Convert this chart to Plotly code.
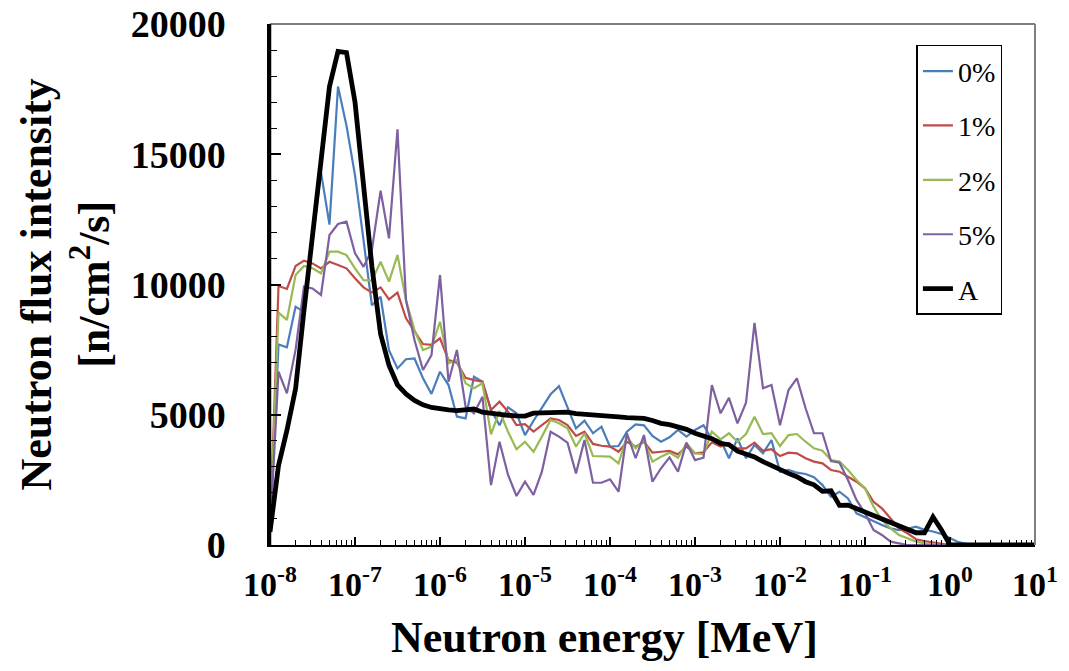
import plotly.graph_objects as go

# Energy grid: 10 logarithmic bins per decade from 1e-8 MeV to 10 MeV
MANTISSA = [1.00, 1.26, 1.58, 2.00, 2.51, 3.16, 3.98, 5.01, 6.31, 7.94]
energy_mev = [m * 10.0 ** d for d in range(-8, 1) for m in MANTISSA] + [10.0]

flux_0pct = [
    500, 7700, 7590, 9150, 8950, 11600, 14300, 12300, 17600, 16100,
    14200, 11700, 9200, 9530, 7480, 6780, 7130, 7160, 6400, 5800,
    6650, 6140, 4930, 4860, 6460, 6270, 5180, 4600, 5285, 5055,
    4220, 4770, 5245, 5785, 6100, 5310, 4480, 4770, 4290, 4540,
    3775, 3800, 4350, 4630, 4595, 4185, 3965, 4134, 4415, 4160,
    4415, 4600, 4057, 4030, 3330, 4095, 3330, 3840, 3520, 4030,
    2815, 2880, 2775, 2725, 2600, 2300, 1855, 2045, 1790, 1215,
    1060, 935, 770, 640, 575, 620, 700, 580, 520, 420,
    250, 110, 40, 0, 0, 0, 0, 0, 0, 0, 0,
]
flux_1pct = [
    500, 9940, 9830, 10710, 10915, 10810, 10620, 10870, 10750, 10620,
    10240, 9890, 9690, 9890, 9430, 9690, 8700, 8190, 7716, 7680,
    7935, 7100, 7000, 6420, 6330, 6270, 5180, 5500, 5120, 4600,
    4640, 4350, 4600, 4860, 4800, 4600, 4185, 4350, 3880, 3810,
    3775, 3580, 3965, 3775, 3965, 3545, 3580, 3610, 3480, 3775,
    3520, 3560, 3940, 3775, 3905, 3710, 3710, 3930, 3620, 3675,
    3415, 3545, 3520, 3330, 3200, 3135, 2880, 2815, 2620, 2430,
    2175, 1660, 1410, 1025, 640, 450, 220, 150, 100, 50,
    0, 0, 0, 0, 0, 0, 0, 0, 0, 0, 0,
]
flux_2pct = [
    500, 8920, 8640, 10365, 10710, 10620, 10430, 11260, 11260, 11130,
    10620, 10170, 10150, 10875, 10110, 11130, 9400, 8250, 7485, 7610,
    8570, 6975, 7100, 6205, 6015, 6205, 4250, 5150, 4350, 3675,
    3965, 3580, 4160, 4800, 4670, 4480, 3775, 4290, 3415, 3390,
    3390, 3135, 4160, 3710, 4030, 3200, 3390, 3545, 3350, 3905,
    3520, 3480, 4350, 4057, 4290, 3965, 4260, 4925, 4260, 4290,
    3800, 4220, 4260, 3965, 3710, 3620, 3260, 3200, 2880, 2495,
    2175, 1470, 960, 640, 385, 256, 130, 65, 30, 0,
    0, 0, 0, 0, 0, 0, 0, 0, 0, 0, 0,
]
flux_5pct = [
    500, 6650, 5820, 7500, 9920, 9850, 9600, 11900, 12320, 12410,
    11200, 10680, 11325, 13600, 11770, 15960, 9400, 7870, 6720, 7290,
    10365, 6270, 7485, 5310, 5055, 5690, 2300, 3965, 2700, 1880,
    2430, 1920, 2815, 4350, 4160, 3930, 2750, 4030, 2390, 2390,
    2520, 2045, 4290, 3330, 4220, 2430, 2945, 3365, 2815, 3930,
    3260, 3350, 6140, 5055, 5650, 4670, 5460, 8530, 6015, 6140,
    4600, 5950, 6400, 5250, 4290, 4290, 3225, 3160, 2495, 1730,
    1215, 575, 385, 130, 65, 0, 0, 0, 0, 0,
    0, 0, 0, 0, 0, 0, 0, 0, 0, 0, 0,
]
flux_a = [
    500, 3050, 4400, 6000, 9000, 12000, 15000, 17600, 18950, 18900,
    17000, 14000, 10700, 8100, 6900, 6150, 5800, 5550, 5380, 5280,
    5220, 5190, 5160, 5170, 5220, 5100, 5050, 5000, 4980, 4960,
    4950, 5060, 5080, 5100, 5120, 5100, 5040, 5020, 5015, 5000,
    4960, 4920, 4890, 4880, 4860, 4780, 4670, 4620, 4520, 4440,
    4290, 4200, 4080, 3900, 3850, 3600, 3480, 3380, 3200, 3040,
    2880, 2750, 2620, 2430, 2310, 2060, 2080, 1520, 1530, 1400,
    1270, 1150, 1030, 890, 760, 620, 470, 470, 1080, 580,
    0, 0, 0, 0, 0, 0, 0, 0, 0, 0, 0,
]

series = [
    ("0%", flux_0pct, "#4A7EBB", 2.2),
    ("1%", flux_1pct, "#BE4B48", 2.2),
    ("2%", flux_2pct, "#98B954", 2.2),
    ("5%", flux_5pct, "#7D60A0", 2.2),
    ("A", flux_a, "#000000", 4.8),
]

x_decades = [1e-8, 1e-7, 1e-6, 1e-5, 1e-4, 1e-3, 1e-2, 1e-1, 1e0, 1e1]
x_labels = ["10<sup>-8</sup>", "10<sup>-7</sup>", "10<sup>-6</sup>", "10<sup>-5</sup>",
            "10<sup>-4</sup>", "10<sup>-3</sup>", "10<sup>-2</sup>", "10<sup>-1</sup>",
            "10<sup>0</sup>", "10<sup>1</sup>"]
x_minor = [k * 10.0 ** d for d in range(-8, 1) for k in range(2, 10)]
y_major = [0, 5000, 10000, 15000, 20000]
y_minor = [v for v in range(0, 20001, 1000) if v % 5000]

SERIF = "Liberation Serif"
TITLE_FONT = dict(family=SERIF, size=44, color="black", weight="bold")

fig = go.Figure()
for name, vals, color, width in series:
    fig.add_trace(go.Scatter(
        x=energy_mev, y=vals, mode="lines", name=name, legendgroup=name,
        line=dict(color=color, width=width),
    ))

fig.update_layout(
    width=1069, height=671,
    margin=dict(l=270, r=34, t=24, b=126, autoexpand=False),
    paper_bgcolor="white", plot_bgcolor="white",
    showlegend=True,
    legend=dict(
        x=0.845, y=0.96, xanchor="left", yanchor="top",
        bgcolor="white", bordercolor="black", borderwidth=1.5,
        font=dict(family=SERIF, size=28, color="black"),
        tracegroupgap=15, itemwidth=30,
    ),
    xaxis=dict(
        type="log", range=[-8, 1],
        tickmode="array", tickvals=x_decades, ticktext=x_labels,
        ticks="inside", ticklen=8, tickwidth=1.5, tickcolor="black",
        minor=dict(tickmode="array", tickvals=x_minor, ticks="inside",
                   ticklen=5, tickwidth=1, tickcolor="black", showgrid=False),
        showline=True, linecolor="black", linewidth=2,
        showgrid=False, zeroline=False,
        ticklabelstandoff=8,
        tickfont=dict(family=SERIF, size=34, color="black", weight="bold"),
    ),
    yaxis=dict(
        range=[0, 20000],
        tickmode="array", tickvals=y_major, ticktext=[str(v) for v in y_major],
        ticks="inside", ticklen=11, tickwidth=1.5, tickcolor="black",
        minor=dict(tickmode="array", tickvals=y_minor, ticks="inside",
                   ticklen=7, tickwidth=1, tickcolor="black", showgrid=False),
        showline=True, linecolor="black", linewidth=2.5,
        showgrid=False, zeroline=False,
        ticklabelstandoff=34,
        tickfont=dict(family=SERIF, size=38, color="black", weight="bold"),
    ),
    annotations=[
        dict(text="Neutron energy [MeV]", xref="paper", yref="paper",
             x=0.437, y=-0.178, xanchor="center", yanchor="middle",
             showarrow=False, font=TITLE_FONT),
        dict(text="Neutron flux intensity<br>[n/cm<sup>2</sup>/s]",
             xref="paper", yref="paper", x=-0.268, y=0.5,
             xanchor="center", yanchor="middle", textangle=-90,
             showarrow=False, font=TITLE_FONT),
    ],
    shapes=[
        dict(type="line", xref="paper", yref="paper", x0=0, x1=1, y0=1, y1=1,
             line=dict(color="#7f7f7f", width=2)),
        dict(type="line", xref="paper", yref="paper", x0=1, x1=1, y0=0, y1=1,
             line=dict(color="#7f7f7f", width=2)),
        dict(type="line", xref="paper", yref="paper", x0=0, x1=0, y0=0, y1=1,
             layer="above", line=dict(color="black", width=2.5)),
    ],
)

fig.write_html("out.html")
